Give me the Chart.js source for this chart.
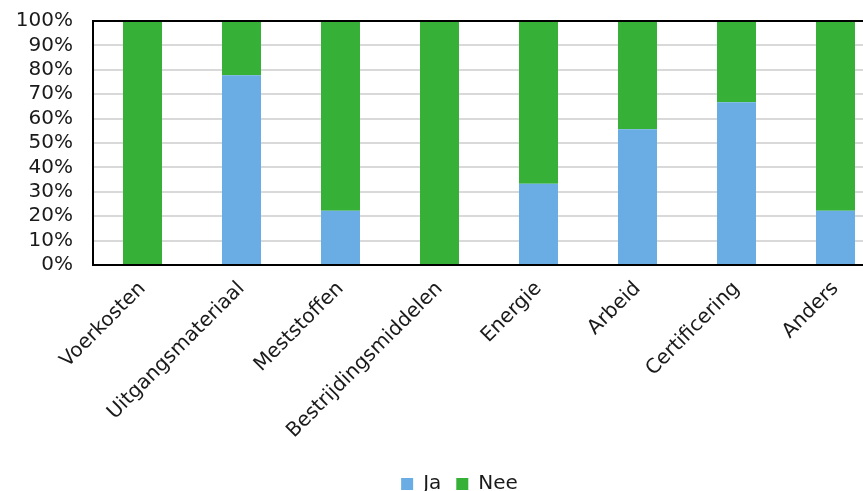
<!DOCTYPE html>
<html>
<head>
<meta charset="utf-8">
<script src="https://cdn.jsdelivr.net/npm/chart.js@4/dist/chart.umd.min.js"></script>
<style>
  html, body { margin: 0; padding: 0; background: #fff; overflow: hidden; }
  #wrap { width: 863px; height: 491px; overflow: hidden; }
</style>
</head>
<body>
<div id="wrap"><canvas id="barChart" width="886" height="504"></canvas></div>
<script>
var categories = ['Voerkosten', 'Uitgangsmateriaal', 'Meststoffen', 'Bestrijdingsmiddelen', 'Energie', 'Arbeid', 'Certificering', 'Anders'];
var jaValues = [0, 77.8, 22.2, 0, 33.3, 55.6, 66.7, 22.2];
var neeValues = [100, 22.2, 77.8, 100, 66.7, 44.4, 33.3, 77.8];
var yTicks = [0, 10, 20, 30, 40, 50, 60, 70, 80, 90, 100];

var FONT = "'DejaVu Sans', Verdana, sans-serif";

// black frame round the plot area
var frame = {
    id: 'frame',
    afterDatasetsDraw: function(chart) {
        var a = chart.chartArea, c = chart.ctx;
        c.save();
        c.strokeStyle = '#000';
        c.lineWidth = 2;
        c.strokeRect(a.left, a.top, a.right - a.left, a.bottom - a.top);
        c.restore();
    }
};

// legend sits a bit right of the canvas centre in the original
var legendShift = {
    id: 'legendShift',
    afterLayout: function(chart) {
        chart.legend.left += 17;
        chart.legend.right += 17;
    }
};

window.onload = function() {
    var ctx = document.getElementById('barChart').getContext('2d');
    var barChart = new Chart(ctx, {
        type: 'bar',
        data: {
            labels: categories,
            datasets: [{
                label: 'Ja',
                data: jaValues,
                backgroundColor: '#6aade4'
            }, {
                label: 'Nee',
                data: neeValues,
                backgroundColor: '#36b037'
            }]
        },
        options: {
            responsive: false,
            animation: false,
            layout: { padding: { top: 21, right: 1, left: 0, bottom: 0 } },
            datasets: { bar: { barPercentage: 0.394, categoryPercentage: 1 } },
            scales: {
                x: {
                    stacked: true,
                    grid: { display: false },
                    border: { display: false },
                    afterFit: function(axis) {
                        axis.height = 194;
                        axis.paddingLeft = 0;
                        axis.paddingRight = 0;
                    },
                    ticks: {
                        color: '#1a1a1a',
                        font: { family: FONT, size: 20 },
                        maxRotation: 45,
                        minRotation: 45,
                        autoSkip: false,
                        padding: 4
                    }
                },
                y: {
                    stacked: true,
                    min: 0,
                    max: 100,
                    afterBuildTicks: function(axis) {
                        axis.ticks = yTicks.map(function(v) { return { value: v }; });
                    },
                    afterFit: function(axis) {
                        axis.width = 93;
                        axis.paddingTop = 0;
                        axis.paddingBottom = 0;
                    },
                    grid: { color: '#d9d9d9', lineWidth: 2, drawTicks: false },
                    border: { display: false },
                    ticks: {
                        color: '#1a1a1a',
                        font: { family: FONT, size: 20 },
                        padding: 20,
                        autoSkip: false,
                        callback: function(v) { return v + '%'; }
                    }
                }
            },
            plugins: {
                legend: {
                    position: 'bottom',
                    labels: {
                        color: '#1a1a1a',
                        font: { family: FONT, size: 20 },
                        boxWidth: 12,
                        boxHeight: 12,
                        padding: 15
                    }
                },
                tooltip: { enabled: false }
            }
        },
        plugins: [frame, legendShift]
    });
};
</script>
</body>
</html>
